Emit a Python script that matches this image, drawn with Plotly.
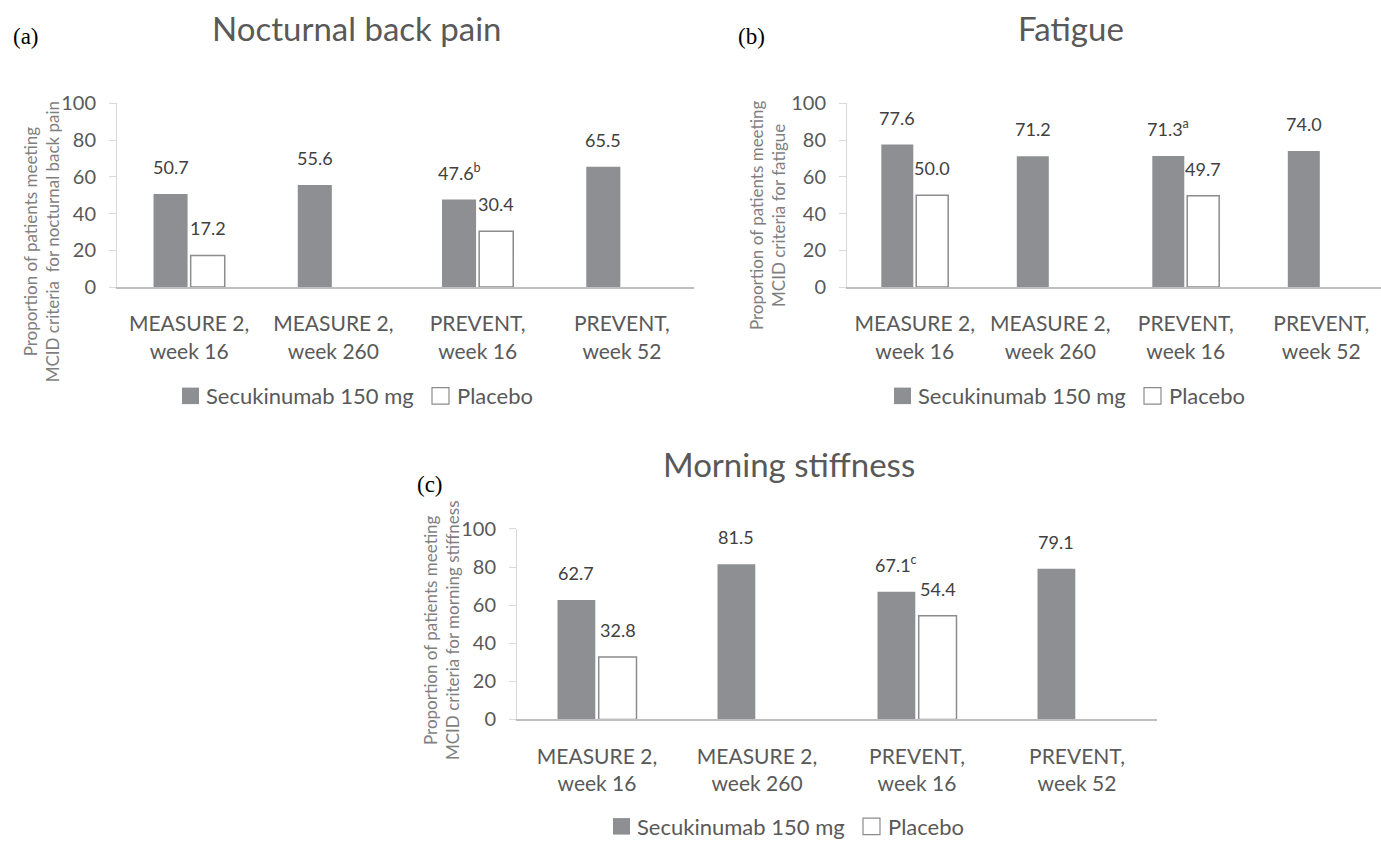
import plotly.graph_objects as go

W, H = 1381, 849

# ---- data -------------------------------------------------------------
categories = ["MEASURE 2,<br>week 16", "MEASURE 2,<br>week 260",
              "PREVENT,<br>week 16", "PREVENT,<br>week 52"]

back_pain_secukinumab = [50.7, 55.6, 47.6, 65.5]
back_pain_placebo = [17.2, None, 30.4, None]
back_pain_notes = ["", "", "b", ""]

fatigue_secukinumab = [77.6, 71.2, 71.3, 74.0]
fatigue_placebo = [50.0, None, 49.7, None]
fatigue_notes = ["", "", "a", ""]

stiffness_secukinumab = [62.7, 81.5, 67.1, 79.1]
stiffness_placebo = [32.8, None, 54.4, None]
stiffness_notes = ["", "", "c", ""]

y_ticks = [0, 20, 40, 60, 80, 100]
series_names = ["Secukinumab 150 mg", "Placebo"]

# ---- style ------------------------------------------------------------
FONT = "Lato"
GREY_BAR = "#8e8f93"
OUTLINE = "#8c8c8c"
TXT = "#595959"
LABEL_TXT = "#404040"
AXTITLE_TXT = "#7f7f7f"
BARGAP = 0.485
BARGROUPGAP = 0.083

# pixel geometry of each panel (plot area, title, tag, axis title, legend)
panels = [
    dict(sec=back_pain_secukinumab, pla=back_pain_placebo, notes=back_pain_notes,
         title="Nocturnal back pain", tag="(a)",
         ytitle="Proportion of patients meeting<br>MCID criteria  for nocturnal back pain",
         x0=117, x1=694, ytop=93, ybot=282,
         title_xy=(357, 15), tag_xy=(26, 24), ytitle_xy=(41, 236), legend_xy=(357, 394)),
    dict(sec=fatigue_secukinumab, pla=fatigue_placebo, notes=fatigue_notes,
         title="Fatigue", tag="(b)",
         ytitle="Proportion of patients meeting<br>MCID criteria for fatigue",
         x0=847, x1=1389, ytop=93, ybot=282,
         title_xy=(1071, 15), tag_xy=(751, 24), ytitle_xy=(767, 208), legend_xy=(1069, 394)),
    dict(sec=stiffness_secukinumab, pla=stiffness_placebo, notes=stiffness_notes,
         title="Morning stiffness", tag="(c)",
         ytitle="Proportion of patients meeting<br>MCID criteria for morning stiffness",
         x0=517, x1=1157, ytop=531, ybot=727,
         title_xy=(789, 464), tag_xy=(430, 485), ytitle_xy=(441, 635), legend_xy=(788, 837)),
]


def px(x):
    return x / W


def py(y):
    return 1 - y / H


fig = go.Figure()
annotations = []
shapes = []
layout_axes = {}

slot = (1 - BARGAP) / 4  # offset of each bar centre from the category centre

for k, p in enumerate(panels, start=1):
    sfx = "" if k == 1 else str(k)
    xa, ya = "x" + sfx, "y" + sfx

    fig.add_trace(go.Bar(
        x=categories, y=p["sec"], name=series_names[0], xaxis=xa, yaxis=ya,
        marker=dict(color=GREY_BAR, line=dict(width=0)), showlegend=False,
    ))
    fig.add_trace(go.Bar(
        x=categories, y=p["pla"], name=series_names[1], xaxis=xa, yaxis=ya,
        marker=dict(color="white", line=dict(color=OUTLINE, width=1.5)), showlegend=False,
    ))

    # axis placement; the right-hand panel runs off the page edge
    x1_vis = min(p["x1"], W)
    x_end = -0.5 + 4 * (x1_vis - p["x0"]) / (p["x1"] - p["x0"])

    layout_axes["xaxis" + sfx] = dict(
        domain=[px(p["x0"]), px(x1_vis)], anchor=ya, type="category",
        categoryorder="array", categoryarray=categories, range=[-0.5, x_end],
        showline=True, linecolor="#bfbfbf", linewidth=2, ticks="",
        showgrid=False, zeroline=False, fixedrange=True,
        tickfont=dict(family=FONT, size=21, color=TXT), ticklabelstandoff=17,
    )
    layout_axes["yaxis" + sfx] = dict(
        domain=[py(p["ybot"]), py(p["ytop"])], anchor=xa, range=[0, 100],
        tickvals=y_ticks, showline=True, linecolor="#d9d9d9", linewidth=1,
        ticks="outside", ticklen=7, tickcolor="#d9d9d9", showgrid=False,
        zeroline=False, fixedrange=True,
        tickfont=dict(family=FONT, size=20, color=TXT), ticklabelstandoff=9,
    )

    # value labels above each bar
    for i, cat in enumerate(categories):
        for vals, off, note in ((p["sec"], -slot, p["notes"][i]), (p["pla"], slot, "")):
            v = vals[i]
            if v is None:
                continue
            txt = f"{v:.1f}" + (f"<sup>{note}</sup>" if note else "")
            annotations.append(dict(
                x=i + off, y=v, xref=xa, yref=ya, text=txt, showarrow=False,
                xanchor="center", yanchor="bottom", yshift=14,
                font=dict(family=FONT, size=18, color=LABEL_TXT),
            ))

    # panel title, tag and y-axis title
    tx, ty = p["title_xy"]
    annotations.append(dict(x=px(tx), y=py(ty), xref="paper", yref="paper", text=p["title"],
                            showarrow=False, xanchor="center", yanchor="middle",
                            font=dict(family=FONT, size=33, color=TXT)))
    gx, gy = p["tag_xy"]
    annotations.append(dict(x=px(gx), y=py(gy), xref="paper", yref="paper", text=p["tag"],
                            showarrow=False, xanchor="center", yanchor="middle",
                            font=dict(family="Liberation Serif", size=23, color="black")))
    ax_, ay_ = p["ytitle_xy"]
    annotations.append(dict(x=px(ax_), y=py(ay_), xref="paper", yref="paper", text=p["ytitle"],
                            showarrow=False, xanchor="center", yanchor="middle", textangle=-90,
                            font=dict(family=FONT, size=17, color=AXTITLE_TXT)))

    # legend row under the panel
    lx, ly = p["legend_xy"]
    left = lx - 175
    shapes.append(dict(type="rect", xref="paper", yref="paper",
                       x0=px(left), x1=px(left + 17), y0=py(ly + 8.5), y1=py(ly - 8.5),
                       fillcolor=GREY_BAR, line=dict(width=0)))
    annotations.append(dict(x=px(left + 22), y=py(ly), xref="paper", yref="paper",
                            text=series_names[0], showarrow=False, xanchor="left",
                            yanchor="middle", font=dict(family=FONT, size=22, color=TXT)))
    shapes.append(dict(type="rect", xref="paper", yref="paper",
                       x0=px(left + 250), x1=px(left + 267), y0=py(ly + 8.5), y1=py(ly - 8.5),
                       fillcolor="white", line=dict(color=OUTLINE, width=1.2)))
    annotations.append(dict(x=px(left + 273), y=py(ly), xref="paper", yref="paper",
                            text=series_names[1], showarrow=False, xanchor="left",
                            yanchor="middle", font=dict(family=FONT, size=22, color=TXT)))

fig.update_layout(
    width=W, height=H, margin=dict(l=0, r=0, t=0, b=0),
    paper_bgcolor="white", plot_bgcolor="white",
    barmode="group", bargap=BARGAP, bargroupgap=BARGROUPGAP,
    showlegend=False, annotations=annotations, shapes=shapes,
    font=dict(family=FONT, color=TXT),
    **layout_axes,
)

fig.write_html("out.html", config={"displayModeBar": False})
